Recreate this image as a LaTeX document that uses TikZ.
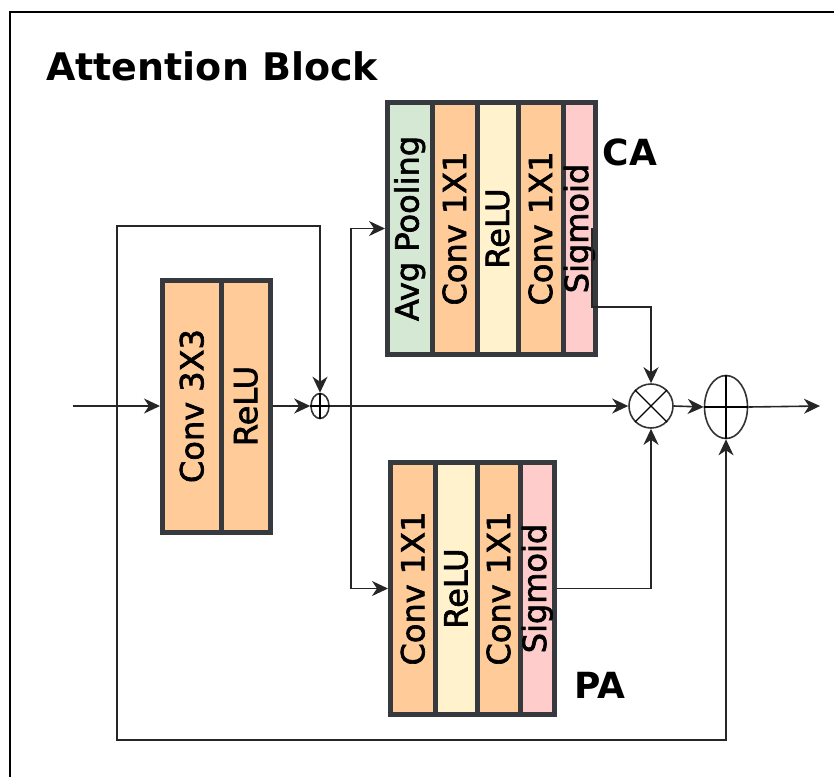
\documentclass[tikz,border=0pt]{standalone}
\usepackage{fontspec}
\setmainfont{DejaVu Sans}
\newfontfamily\cellfont[FakeBold=2]{DejaVu Sans}
\usetikzlibrary{arrows.meta,shapes.geometric}
\definecolor{boxline}{HTML}{36393D}
\definecolor{convor}{HTML}{FFCC99}
\definecolor{reluy}{HTML}{FFF2CC}
\definecolor{poolg}{HTML}{D5E8D4}
\definecolor{sigp}{HTML}{FFCCCC}
\begin{document}
\begin{tikzpicture}[>={Stealth[length=16pt,width=15pt,inset=5pt]}, x=1pt, y=-1pt,
	cell/.style={draw=boxline, line width=5pt, minimum height=252pt, inner sep=0pt, font=\cellfont\fontsize{32}{36}\selectfont},
	wire/.style={line width=1.6pt, draw=black!85},
	op/.style={draw=black!80, line width=1.6pt, inner sep=0pt},
	lbl/.style={inner sep=0pt, font=\fontsize{36}{40}\selectfont\bfseries}]
	\useasboundingbox (0,0) rectangle (834,777);
	\draw[line width=2.5pt] (834,12) -- (10,12) -- (10,777); % khung ngoai
	\node[lbl, anchor=base west, font=\fontsize{38}{42}\selectfont\bfseries] (title) at (46,80) {Attention Block};
	% khoi Conv 3X3
	\foreach \n/\xa/\xb/\c/\t in {c1/162.5/221/convor/Conv 3X3, c2/221/270.5/convor/ReLU}
	{\node[cell, fill=\c, minimum width=\xb-\xa] (\n) at ({(\xa+\xb)/2},406) {\rotatebox{90}{\t}};}
	% khoi CA
	\foreach \n/\xa/\xb/\c/\t in {ca1/387.5/432/poolg/Avg Pooling, ca2/432/477/convor/Conv 1X1, ca3/477/518/reluy/ReLU, ca4/518/563/convor/Conv 1X1, ca5/563/595.5/sigp/Sigmoid}
	{\node[cell, fill=\c, minimum width=\xb-\xa] (\n) at ({(\xa+\xb)/2},228.5) {\rotatebox{90}{\t}};}
	% khoi PA
	\foreach \n/\xa/\xb/\c/\t in {pa1/390.5/435/convor/Conv 1X1, pa2/435/477/reluy/ReLU, pa3/477/520/convor/Conv 1X1, pa4/520/554.5/sigp/Sigmoid}
	{\node[cell, fill=\c, minimum width=\xb-\xa] (\n) at ({(\xa+\xb)/2},588.5) {\rotatebox{90}{\t}};}
	\node[lbl] (ca) at (630,152) {CA};
	\node[lbl] (pa) at (600,685) {PA};
	% cac phep cong, nhan
	\node[op, ellipse, minimum width=18pt, minimum height=25pt] (sp) at (320,406) {};
	\draw[line width=1.2pt] (sp.north) -- (sp.south) (sp.west) -- (sp.east);
	\node[op, circle, minimum size=44pt] (ot) at (651,406) {};
	\draw[line width=1.2pt] (ot.north west) -- (ot.south east) (ot.north east) -- (ot.south west);
	\node[op, ellipse, minimum width=43pt, minimum height=63pt] (bo) at (726,407) {};
	\draw[line width=1.6pt] (bo.north) -- (bo.south) (bo.west) -- (bo.east);
	% day noi
	\coordinate (in) at (73,406);
	\coordinate (lt) at (117,406);
	\coordinate (br) at (351,406);
	\coordinate (out) at (820,406);
	\coordinate (casrc) at (592,228);
	\coordinate (cabend) at (592,307);
	\draw[wire,->] (in) -- (c1.west);
	\draw[wire,->] (c2.east) -- (sp.west);
	\draw[wire,->] (lt) -- ++(0,-180) -| (sp.north);
	\draw[wire,->] (lt) -- ++(0,334) -| (bo.south);
	\draw[wire,->] (sp.east) -- (ot.west);
	\draw[wire,->] (br) |- (ca1.west);
	\draw[wire,->] (br) |- (pa1.west);
	\draw[wire,->] (casrc) -- (cabend) -| (ot.north);
	\draw[wire,->] (pa4.east) -| (ot.south);
	\draw[wire,->] (ot.east) -- (bo.west);
	\draw[wire,->] (bo.east) -- (out);
\end{tikzpicture}
\end{document}
